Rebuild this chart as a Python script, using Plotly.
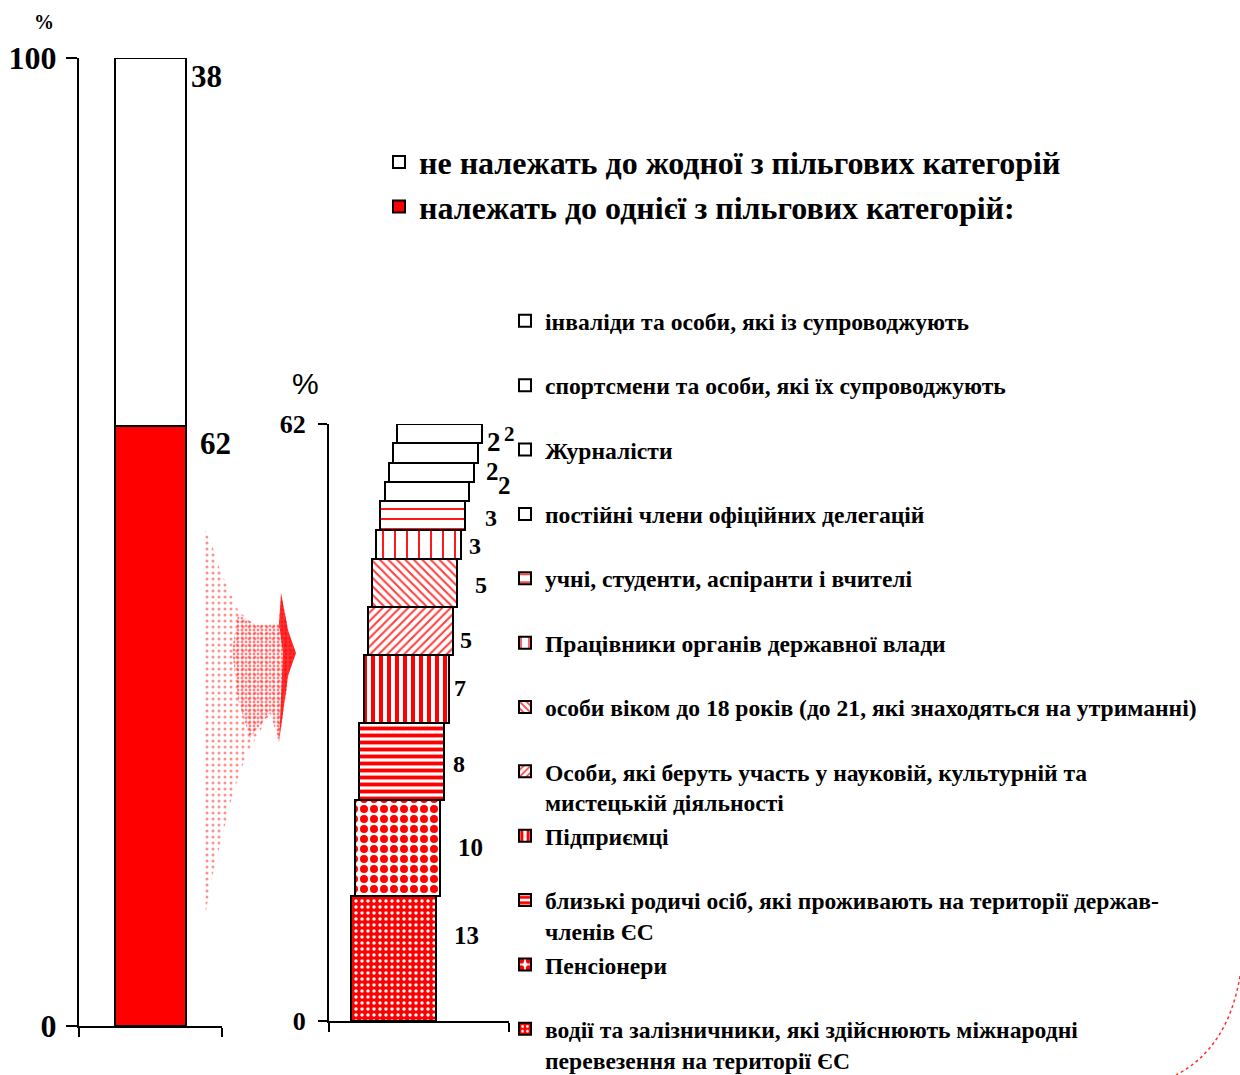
import plotly.graph_objects as go
import numpy as np

W, H = 1240, 1075


def px(x):
    return x / W


def py(y):
    return 1 - y / H


SERIF = "Liberation Serif"

# ---------------- data ----------------
# Chart 1: share of people (bottom to top)
group_names = ["належать до однієї з пільгових категорій:",
               "не належать до жодної з пільгових категорій"]
group_values = [62, 38]

# Chart 2: privileged categories (bottom to top)
cat_names = [
    "водії та залізничники, які здійснюють міжнародні<br>перевезення на території ЄС",
    "Пенсіонери",
    "близькі родичі осіб, які проживають на території держав-<br>членів ЄС",
    "Підприємці",
    "Особи, які беруть участь у науковій, культурній та<br>мистецькій діяльності",
    "особи віком до 18 років (до 21, які знаходяться на утриманні)",
    "Працівники органів державної влади",
    "учні, студенти, аспіранти і вчителі",
    "постійні члени офіційних делегацій",
    "Журналісти",
    "спортсмени та особи, які їх супроводжують",
    "інваліди та особи, які із супроводжують",
]
cat_values = [13, 10, 8, 7, 5, 5, 3, 3, 2, 2, 2, 2]

# ---------------- styles ----------------
group_colors = ["#ff0000", "#ffffff"]
cat_patterns = [
    dict(shape=".", bgcolor="#ff0000", fgcolor="#ffffff", size=6, solidity=0.25),
    dict(shape=".", bgcolor="#ffffff", fgcolor="#ff0000", size=10, solidity=0.5),
    dict(shape="-", bgcolor="#ffffff", fgcolor="#ff0000", size=7, solidity=0.55),
    dict(shape="|", bgcolor="#ffffff", fgcolor="#ff0000", size=8, solidity=0.5),
    dict(shape="/", bgcolor="#ffffff", fgcolor="#ff4040", size=6, solidity=0.35),
    dict(shape="\\", bgcolor="#ffffff", fgcolor="#ff4040", size=6, solidity=0.35),
    dict(shape="|", bgcolor="#ffffff", fgcolor="#ff0000", size=12, solidity=0.15),
    dict(shape="-", bgcolor="#ffffff", fgcolor="#ff0000", size=10, solidity=0.18),
    None, None, None, None,
]
label_shift = [(31, 23), (30, 0), (15, -3), (11, 1), (13, -9), (24, -2),
               (14, -2), (26, -3), (35, 6), (19, 1), (16, 11), (27, 0)]
label_size = [25, 25, 24, 24, 24, 24, 24, 24, 25, 25, 27, 21]

fig = go.Figure()

# ---------------- chart 1 ----------------
g_base = np.concatenate([[0], np.cumsum(group_values)[:-1]])
for i, (name, v, b, c) in enumerate(zip(group_names, group_values, g_base, group_colors)):
    fig.add_trace(go.Bar(
        x=[0.5], y=[v], base=[b], width=[0.5], name=name,
        marker=dict(color=c, line=dict(color="black", width=2)),
        xaxis="x", yaxis="y", legend="legend", legendrank=len(group_names) - i,
        hoverinfo="skip"))
    fig.add_annotation(x=0.75, y=b + v, xref="x", yref="y", text=str(v),
                       showarrow=False, xanchor="left", yanchor="middle",
                       xshift=3 if b > 0 else 12, yshift=-18,
                       font=dict(family=SERIF, size=31, color="black", weight=700))

# ---------------- chart 2 ----------------
c_base = np.concatenate([[0], np.cumsum(cat_values)[:-1]])
bar_w = 0.472
x0, step = 0.358, 0.0233
for i, (name, v, b) in enumerate(zip(cat_names, cat_values, c_base)):
    xc = x0 + step * i
    pat = cat_patterns[i]
    lname = name if "<br>" in name else name + "<br>\u00a0"
    marker = dict(color="#ffffff", line=dict(color="black", width=2))
    if pat is not None:
        marker["pattern"] = dict(fillmode="replace", **pat)
    fig.add_trace(go.Bar(
        x=[xc], y=[v], base=[b], width=[bar_w], name=lname,
        marker=marker, xaxis="x2", yaxis="y2", legend="legend2",
        legendrank=len(cat_names) - i, hoverinfo="skip"))
    dx, dy = label_shift[i]
    fig.add_annotation(x=xc + bar_w / 2, y=b + v / 2, xref="x2", yref="y2",
                       text=str(v), showarrow=False, xanchor="center",
                       yanchor="middle", xshift=dx, yshift=dy,
                       font=dict(family=SERIF, size=label_size[i], color="black", weight=700))

# ---------------- decoration (funnel between charts) ----------------
outer_x = [203, 212, 220, 230, 238, 248, 257, 270, 279, 281, 284, 290, 296, 290, 284, 279,
           276, 270, 258, 247, 240, 233, 223, 213, 207, 203]
outer_y = [525, 545, 570, 592, 610, 620, 625, 626, 624, 593, 615, 638, 653, 668, 690, 742,
           716, 713, 735, 753, 772, 793, 833, 873, 905, 930]
fig.add_trace(go.Scatter(x=outer_x, y=outer_y, mode="lines", fill="toself",
                         line=dict(width=0), fillcolor="rgba(0,0,0,0)",
                         fillpattern=dict(shape=".", fgcolor="#ff2020", bgcolor="rgba(0,0,0,0)",
                                          size=6, solidity=0.2),
                         xaxis="x3", yaxis="y3", showlegend=False, hoverinfo="skip"))
inner_x = [238, 257, 279, 281, 290, 296, 290, 279, 270, 250, 238, 232]
inner_y = [615, 625, 624, 593, 638, 653, 668, 742, 713, 738, 700, 650]
fig.add_trace(go.Scatter(x=inner_x, y=inner_y, mode="lines", fill="toself",
                         line=dict(width=0), fillcolor="rgba(0,0,0,0)",
                         fillpattern=dict(shape=".", fgcolor="#ff0000", bgcolor="rgba(0,0,0,0)",
                                          size=4, solidity=0.4),
                         xaxis="x3", yaxis="y3", showlegend=False, hoverinfo="skip"))
tip_x = [279, 281, 288, 296, 288, 279, 283]
tip_y = [624, 593, 630, 653, 676, 742, 653]
fig.add_trace(go.Scatter(x=tip_x, y=tip_y, mode="lines", fill="toself",
                         line=dict(width=0), fillcolor="rgba(255,0,0,0.8)",
                         xaxis="x3", yaxis="y3", showlegend=False, hoverinfo="skip"))

# dotted arc at bottom-right corner
fig.add_shape(type="path", xref="paper", yref="paper",
              path="M %f %f Q %f %f %f %f" % (px(1240), py(976), px(1228), py(1048), px(1176), py(1075)),
              line=dict(color="#ff3030", width=1.5, dash="dot"))

tick_font1 = dict(family=SERIF, size=32, color="black", weight=700)
tick_font2 = dict(family=SERIF, size=26, color="black", weight=700)

fig.update_layout(
    width=W, height=H,
    margin=dict(l=0, r=0, t=0, b=0, pad=0, autoexpand=False),
    paper_bgcolor="white", plot_bgcolor="rgba(0,0,0,0)",
    barmode="overlay", bargap=0,
    xaxis=dict(domain=[px(79), px(222)], range=[0, 1], anchor="y",
               showline=True, linecolor="black", linewidth=2,
               ticks="outside", tickvals=[0, 1], ticklen=9, tickwidth=2, tickcolor="black",
               showticklabels=False, showgrid=False, zeroline=False, fixedrange=True),
    yaxis=dict(domain=[py(1026), py(58)], range=[0, 100], anchor="x",
               showline=True, linecolor="black", linewidth=2,
               ticks="outside", tickvals=[0, 100], ticktext=["0", "100"], ticklen=11,
               tickwidth=2, tickcolor="black", tickfont=tick_font1, ticklabelstandoff=3,
               showgrid=False, zeroline=False, fixedrange=True),
    xaxis2=dict(domain=[px(329), px(509)], range=[0, 1], anchor="y2",
                showline=True, linecolor="black", linewidth=2,
                ticks="outside", tickvals=[0, 1], ticklen=9, tickwidth=2, tickcolor="black",
                showticklabels=False, showgrid=False, zeroline=False, fixedrange=True),
    yaxis2=dict(domain=[py(1021), py(424)], range=[0, 62], anchor="x2",
                showline=True, linecolor="black", linewidth=2,
                ticks="outside", tickvals=[0, 62], ticktext=["0", "62"], ticklen=9,
                tickwidth=2, tickcolor="black", tickfont=tick_font2, ticklabelstandoff=7,
                showgrid=True, gridcolor="#b0b0b0", gridwidth=1,
                zeroline=False, fixedrange=True),
    xaxis3=dict(domain=[0, 1], range=[0, W], anchor="y3", visible=False, fixedrange=True),
    yaxis3=dict(domain=[0, 1], range=[H, 0], anchor="x3", visible=False, fixedrange=True),
    legend=dict(x=px(379), y=py(134.7), xanchor="left", yanchor="top",
                traceorder="normal",
                font=dict(family=SERIF, size=32, color="black", weight=700),
                bgcolor="rgba(0,0,0,0)", borderwidth=0),
    legend2=dict(x=px(505), y=py(299), xanchor="left", yanchor="top",
                 traceorder="normal", valign="top",
                 font=dict(family=SERIF, size=23.6, color="black", weight=700),
                 bgcolor="rgba(0,0,0,0)", borderwidth=0),
    showlegend=True,
)

fig.add_annotation(x=px(44), y=py(22), xref="paper", yref="paper", text="%",
                   showarrow=False, xanchor="center", yanchor="middle",
                   font=dict(family=SERIF, size=20, color="black", weight=700))
fig.add_annotation(x=px(305), y=py(383), xref="paper", yref="paper", text="%",
                   showarrow=False, xanchor="center", yanchor="middle",
                   font=dict(family="Liberation Sans", size=30, color="black"))

fig.write_html("out.html")
